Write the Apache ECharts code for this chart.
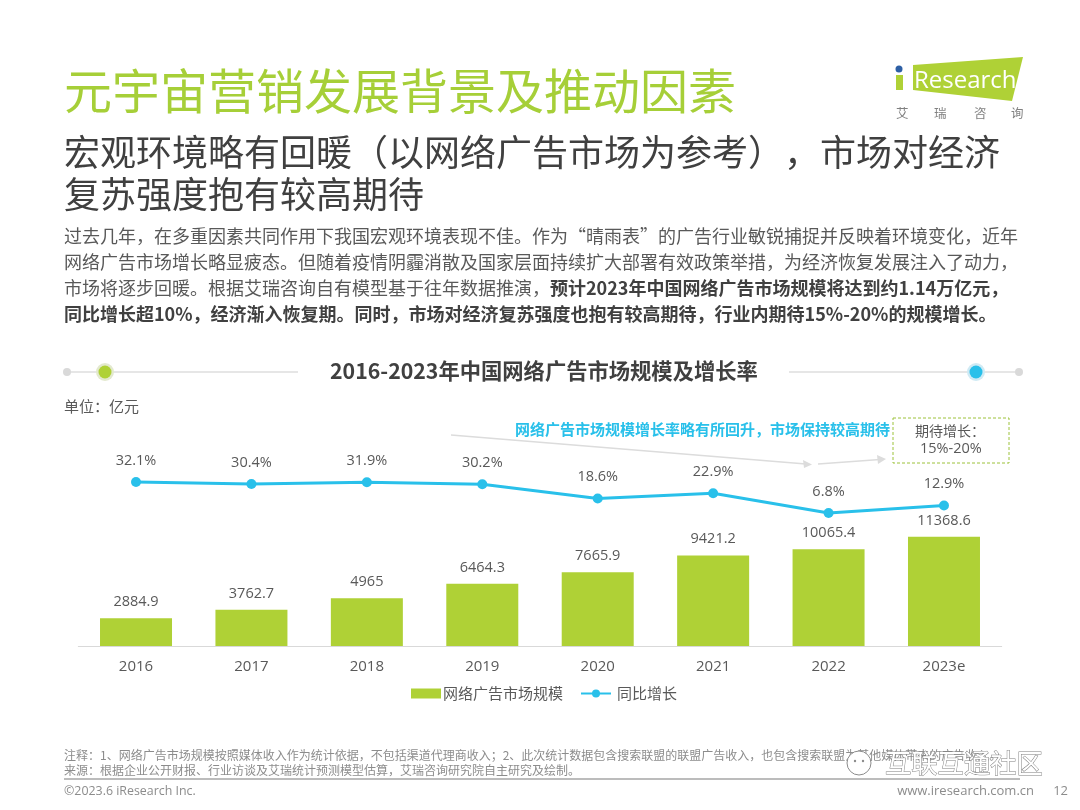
<!DOCTYPE html>
<html>
<head>
<meta charset="utf-8">
<title>元宇宙营销发展背景及推动因素</title>
<script src="https://cdn.jsdelivr.net/npm/echarts@6/dist/echarts.min.js"></script>
<style>
html, body { margin: 0; padding: 0; background: #fff; }
#main { width: 1080px; height: 810px; }
</style>
</head>
<body>
<div id="main"></div>
<script>
var years = ['2016', '2017', '2018', '2019', '2020', '2021', '2022', '2023e'];
var marketSize = [2884.9, 3762.7, 4965, 6464.3, 7665.9, 9421.2, 10065.4, 11368.6];
var growthRate = [32.1, 30.4, 31.9, 30.2, 18.6, 22.9, 6.8, 12.9];

var barName = '网络广告市场规模';
var lineName = '同比增长';

var FONT = '"Noto Sans CJK SC", "Noto Sans", sans-serif';
var NUM_FONT = '"Open Sans", "Noto Sans CJK SC", sans-serif';
var GREEN = '#afd136';
var BLUE = '#29c0ea';
var TEXT = '#595959';

// 页面上的文字
function text(x, y, str, size, color, extra) {
    var style = { x: x, y: y, text: str, fontSize: size, fontFamily: FONT, fill: color, textVerticalAlign: 'middle' };
    for (var k in extra) {
        style[k] = extra[k];
    }
    return { type: 'text', silent: true, style: style };
}

function line(x1, y1, x2, y2, color, width) {
    return { type: 'line', silent: true, shape: { x1: x1, y1: y1, x2: x2, y2: y2 }, style: { stroke: color, lineWidth: width } };
}

function circle(x, y, r, color, extra) {
    var style = { fill: color };
    for (var k in extra) {
        style[k] = extra[k];
    }
    return { type: 'circle', silent: true, shape: { cx: x, cy: y, r: r }, style: style };
}

function poly(points, color) {
    return { type: 'polygon', silent: true, shape: { points: points }, style: { fill: color } };
}

var bodySize = 18;
var bodyRich = {
    n: { fontSize: bodySize, fontFamily: FONT, fill: '#595959', fontWeight: 'normal' },
    b: { fontSize: bodySize, fontFamily: FONT, fill: '#404040', fontWeight: 'bold' }
};

var graphics = [
    // 标题
    text(64, 91, '元宇宙营销发展背景及推动因素', 48, '#a6cf38'),
    text(64, 152, '宏观环境略有回暖（以网络广告市场为参考）', 36, '#404040'),
    text(784, 152, '，市场对经济', 36, '#404040'),
    text(64, 194, '复苏强度抱有较高期待', 36, '#404040'),

    // 正文
    text(64, 236, '过去几年，在多重因素共同作用下我国宏观环境表现不佳。作为“晴雨表”的广告行业敏锐捕捉并反映着环境变化，近年', bodySize, '#595959'),
    text(64, 262, '网络广告市场增长略显疲态。但随着疫情阴霾消散及国家层面持续扩大部署有效政策举措，为经济恢复发展注入了动力，', bodySize, '#595959'),
    { type: 'text', silent: true, style: { x: 64, y: 288, text: '{n|市场将逐步回暖。根据艾瑞咨询自有模型基于往年数据推演，}{b|预计2023年中国网络广告市场规模将达到约1.14万亿元，}', rich: bodyRich, textVerticalAlign: 'middle' } },
    text(64, 314, '同比增长超10%，经济渐入恢复期。同时，市场对经济复苏强度也抱有较高期待，行业内期待15%-20%的规模增长。', bodySize, '#404040', { fontWeight: 'bold' }),

    // 图表标题两侧的装饰
    line(67, 372, 298, 372, '#dedede', 1.5),
    circle(67, 372, 4, '#d9d9d9'),
    circle(105, 372, 9, '#e3e9cf'),
    circle(105, 372, 6.5, GREEN),
    line(789, 372, 1019, 372, '#dedede', 1.5),
    circle(1019, 372, 4, '#d9d9d9'),
    circle(976, 372, 9, '#cfeaf4'),
    circle(976, 372, 6.5, BLUE),

    text(64, 406, '单位：亿元', 15, TEXT),

    // 趋势箭头
    line(451, 435, 806, 464, '#dcdcdc', 1.5),
    poly([[803, 460], [812, 464.5], [804, 468]], '#dcdcdc'),
    line(818, 464, 880, 459.5, '#dcdcdc', 1.5),
    poly([[877, 455], [886, 459], [878, 464]], '#dcdcdc'),

    text(890, 429, '网络广告市场规模增长率略有所回升，市场保持较高期待', 15, BLUE, { fontWeight: 'bold', textAlign: 'right' }),

    // 期待增长框
    { type: 'rect', silent: true, shape: { x: 893, y: 418, width: 116, height: 45 }, style: { fill: '#fff', stroke: '#9cc23a', lineWidth: 1, lineDash: [3, 2] } },
    text(915, 431, '期待增长：', 14, TEXT),
    text(920, 449, '15%-20%', 14.5, TEXT, { fontFamily: NUM_FONT }),

    // 标志
    poly([[913, 65], [1023, 57], [1012, 101], [913, 90]], GREEN),
    circle(899, 69, 3.5, '#2d5fa5'),
    { type: 'rect', silent: true, shape: { x: 896, y: 75, width: 7, height: 15 }, style: { fill: GREEN } },
    text(914, 81, 'Research', 24, '#fff', { fontFamily: NUM_FONT }),
    text(896, 113, '艾', 12.5, '#808080'),
    text(934, 113, '瑞', 12.5, '#808080'),
    text(974, 113, '咨', 12.5, '#808080'),
    text(1011, 113, '询', 12.5, '#808080'),

    // 页脚
    text(64, 755, '注释：1、网络广告市场规模按照媒体收入作为统计依据，不包括渠道代理商收入；2、此次统计数据包含搜索联盟的联盟广告收入，也包含搜索联盟为其他媒体带来的广告收入。', 12, '#8c8c8c'),
    text(64, 770, '来源：根据企业公开财报、行业访谈及艾瑞统计预测模型估算，艾瑞咨询研究院自主研究及绘制。', 12, '#8c8c8c'),
    line(64, 779, 1020, 779, '#a6a6a6', 1.5),
    text(64, 791, '©2023.6 iResearch Inc.', 12.4, '#8c8c8c', { fontFamily: NUM_FONT }),
    text(1034, 791, 'www.iresearch.com.cn', 13, '#8c8c8c', { fontFamily: NUM_FONT, textAlign: 'right' }),
    text(1068, 791, '12', 13, '#8c8c8c', { fontFamily: NUM_FONT, textAlign: 'right' }),

    // 水印
    circle(859, 763, 12, '#fff', { stroke: '#8c8c8c', lineWidth: 1 }),
    circle(855, 761, 1.2, '#8c8c8c'),
    circle(863, 761, 1.2, '#8c8c8c'),
    text(885, 763, '互联互通社区', 26.3, '#fff', { stroke: '#7f7f7f', lineWidth: 1 })
];

var myChart = echarts.init(document.getElementById('main'));
var option = {
    backgroundColor: '#fff',
    animation: false,
    textStyle: { fontFamily: FONT },
    title: {
        text: '2016-2023年中国网络广告市场规模及增长率',
        left: 330,
        top: 360,
        padding: 0,
        textStyle: { fontSize: 21.3, fontWeight: 'bold', color: '#404040', fontFamily: FONT }
    },
    grid: { left: 78.3, right: 78.3, top: 396, height: 250 },
    legend: {
        left: 411,
        top: 686,
        padding: 0,
        itemWidth: 30,
        itemHeight: 10,
        itemGap: 17,
        textStyle: { fontSize: 15, color: TEXT, fontFamily: FONT },
        data: [
            { name: barName, icon: 'rect', textStyle: { padding: [0, 0, 0, -3] } },
            { name: lineName, textStyle: { padding: [0, 0, 0, 1] } }
        ]
    },
    xAxis: [
        {
            type: 'category',
            data: years,
            axisTick: { show: false },
            axisLine: { lineStyle: { color: '#d9d9d9', width: 1 } },
            axisLabel: { fontSize: 15, color: TEXT, margin: 13, fontFamily: NUM_FONT }
        }
    ],
    yAxis: [
        { type: 'value', min: 0, max: 26000, show: false, splitLine: { show: false } },
        { type: 'value', min: -102, max: 102.4, show: false, splitLine: { show: false } }
    ],
    series: [
        {
            name: barName,
            type: 'bar',
            data: marketSize,
            barWidth: 72,
            itemStyle: { color: GREEN },
            label: {
                show: true,
                position: 'top',
                distance: 9,
                fontSize: 14.5,
                color: TEXT,
                fontFamily: NUM_FONT
            }
        },
        {
            name: lineName,
            type: 'line',
            yAxisIndex: 1,
            data: growthRate,
            symbol: 'circle',
            symbolSize: 10,
            itemStyle: { color: BLUE },
            lineStyle: { color: BLUE, width: 3 },
            label: {
                show: true,
                position: 'top',
                distance: 9,
                fontSize: 14.5,
                color: TEXT,
                fontFamily: NUM_FONT,
                formatter: function (p) {
                    return p.value + '%';
                }
            }
        }
    ],
    graphic: { elements: graphics }
};
myChart.setOption(option);
</script>
</body>
</html>
